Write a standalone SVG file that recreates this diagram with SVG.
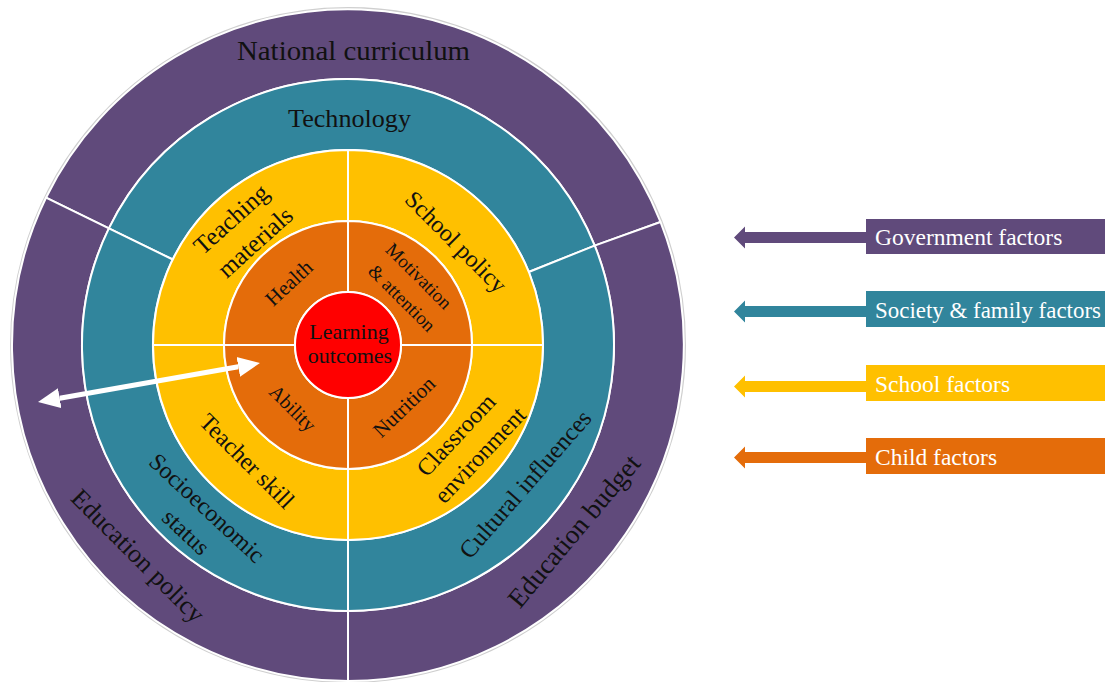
<svg xmlns="http://www.w3.org/2000/svg" width="1105" height="682" viewBox="0 0 1105 682">
  <style>
    .seg { stroke: #ffffff; stroke-width: 2; stroke-linejoin: round; }
    .purple { fill: #604A7B; }
    .teal { fill: #31859C; }
    .yellow { fill: #FFC000; }
    .orange { fill: #E46C0A; }
    .red { fill: #FF0000; }
    .lbl { font-family: "Liberation Serif", "Times New Roman", serif; fill: #111111; text-anchor: middle; dominant-baseline: central; }
    .leg { font-family: "Liberation Serif", "Times New Roman", serif; fill: #ffffff; font-size: 23.5px; }
  </style>
  <defs>
    <marker id="head" viewBox="0 -11 22 22" refX="0" refY="0" markerWidth="22" markerHeight="22" markerUnits="userSpaceOnUse" orient="auto-start-reverse">
      <path d="M0,-10 L22,0 L0,10 Z" fill="#ffffff"/>
    </marker>
  </defs>

  <rect x="0" y="0" width="1105" height="682" fill="#ffffff"/>
  <circle cx="348" cy="345" r="337" fill="none" stroke="#cfcfcf" stroke-width="2"/>

  <!-- Government ring -->
  <g id="national-curriculum">
    <path class="seg purple" d="M46,197.7 A336,336 0 0 1 660.5,222 L594.7,245.6 A266,266 0 0 0 108.9,228.4 Z"/>
    <text class="lbl" x="353.5" y="51" font-size="27" textLength="233" lengthAdjust="spacingAndGlyphs">National curriculum</text>
  </g>
  <g id="education-policy">
    <path class="seg purple" d="M46,197.7 A336,336 0 0 0 348,681 L348,611 A266,266 0 0 1 108.9,228.4 Z"/>
    <text class="lbl" font-size="26" transform="translate(138,556) rotate(45)">Education policy</text>
  </g>
  <g id="education-budget">
    <path class="seg purple" d="M348,681 A336,336 0 0 0 660.5,222 L594.7,245.6 A266,266 0 0 1 348,611 Z"/>
    <text class="lbl" font-size="27" transform="translate(574,531) rotate(-50)">Education budget</text>
  </g>

  <!-- Society & family ring -->
  <g id="technology">
    <path class="seg teal" d="M108.9,228.4 A266,266 0 0 1 594.7,245.6 L528.8,272 A195,195 0 0 0 172.7,259.5 Z"/>
    <text class="lbl" x="349.5" y="118" font-size="25" textLength="123" lengthAdjust="spacingAndGlyphs">Technology</text>
  </g>
  <g id="socioeconomic-status">
    <path class="seg teal" d="M108.9,228.4 A266,266 0 0 0 348,611 L348,540 A195,195 0 0 1 172.7,259.5 Z"/>
    <text class="lbl" font-size="24" transform="translate(207,508) rotate(43)">Socioeconomic</text>
    <text class="lbl" font-size="24" transform="translate(186,532) rotate(43)">status</text>
  </g>
  <g id="cultural-influences">
    <path class="seg teal" d="M348,611 A266,266 0 0 0 594.7,245.6 L528.8,272 A195,195 0 0 1 348,540 Z"/>
    <text class="lbl" font-size="24.5" transform="translate(525,484) rotate(-49)">Cultural influences</text>
  </g>

  <!-- School ring -->
  <g id="teaching-materials">
    <path class="seg yellow" d="M153,345 A195,195 0 0 1 348,150 L348,221 A124,124 0 0 0 224,345 Z"/>
    <text class="lbl" font-size="25" transform="translate(231,219) rotate(-42)">Teaching</text>
    <text class="lbl" font-size="25" transform="translate(255,242) rotate(-42)">materials</text>
  </g>
  <g id="school-policy">
    <path class="seg yellow" d="M348,150 A195,195 0 0 1 543,345 L472,345 A124,124 0 0 0 348,221 Z"/>
    <text class="lbl" font-size="24" transform="translate(456,242) rotate(45)">School policy</text>
  </g>
  <g id="classroom-environment">
    <path class="seg yellow" d="M543,345 A195,195 0 0 1 348,540 L348,469 A124,124 0 0 0 472,345 Z"/>
    <text class="lbl" font-size="24" transform="translate(456,435) rotate(-47)">Classroom</text>
    <text class="lbl" font-size="24" transform="translate(480,455) rotate(-47)">environment</text>
  </g>
  <g id="teacher-skill">
    <path class="seg yellow" d="M348,540 A195,195 0 0 1 153,345 L224,345 A124,124 0 0 0 348,469 Z"/>
    <text class="lbl" font-size="24" transform="translate(247,461) rotate(45)">Teacher skill</text>
  </g>

  <!-- Child ring -->
  <g id="health">
    <path class="seg orange" d="M224,345 A124,124 0 0 1 348,221 L348,292 A53,53 0 0 0 295,345 Z"/>
    <text class="lbl" font-size="21" transform="translate(289,283) rotate(-43)">Health</text>
  </g>
  <g id="motivation-attention">
    <path class="seg orange" d="M348,221 A124,124 0 0 1 472,345 L401,345 A53,53 0 0 0 348,292 Z"/>
    <text class="lbl" font-size="19" transform="translate(419,276) rotate(45)">Motivation</text>
    <text class="lbl" font-size="19" transform="translate(402,298) rotate(45)">&amp; attention</text>
  </g>
  <g id="nutrition">
    <path class="seg orange" d="M472,345 A124,124 0 0 1 348,469 L348,398 A53,53 0 0 0 401,345 Z"/>
    <text class="lbl" font-size="21" transform="translate(404,407) rotate(-44)">Nutrition</text>
  </g>
  <g id="ability">
    <path class="seg orange" d="M348,469 A124,124 0 0 1 224,345 L295,345 A53,53 0 0 0 348,398 Z"/>
    <text class="lbl" font-size="20" transform="translate(293,408) rotate(45)">Ability</text>
  </g>

  <!-- Centre -->
  <g id="learning-outcomes">
    <circle class="seg red" cx="348" cy="345" r="53"/>
    <text class="lbl" x="349" y="331" font-size="22">Learning</text>
    <text class="lbl" x="350" y="355" font-size="22">outcomes</text>
  </g>

  <!-- Connectors -->
  <g id="connectors">
    <line x1="59.7" y1="398.2" x2="238.3" y2="366.8" stroke="#ffffff" stroke-width="5" marker-start="url(#head)" marker-end="url(#head)"/>
  </g>

  <!-- Legend -->
  <g id="legend-government">
    <polygon points="734,237.5 745,226.5 745,232 866,232 866,243 745,243 745,248.5" fill="#604A7B"/>
    <rect x="866" y="219" width="239" height="35" fill="#604A7B"/>
    <text class="leg" x="875" y="245">Government factors</text>
  </g>
  <g id="legend-society">
    <polygon points="734,311.5 745,300.5 745,306 866,306 866,317 745,317 745,322.5" fill="#31859C"/>
    <rect x="866" y="291" width="239" height="36" fill="#31859C"/>
    <text class="leg" x="875" y="318" textLength="226" lengthAdjust="spacingAndGlyphs">Society &amp; family factors</text>
  </g>
  <g id="legend-school">
    <polygon points="734,386.5 745,375.5 745,381 866,381 866,392 745,392 745,397.5" fill="#FFC000"/>
    <rect x="866" y="365" width="239" height="36" fill="#FFC000"/>
    <text class="leg" x="875" y="392">School factors</text>
  </g>
  <g id="legend-child">
    <polygon points="734,457.5 745,446.5 745,452 866,452 866,463 745,463 745,468.5" fill="#E46C0A"/>
    <rect x="866" y="438" width="239" height="36" fill="#E46C0A"/>
    <text class="leg" x="875" y="465">Child factors</text>
  </g>
</svg>
